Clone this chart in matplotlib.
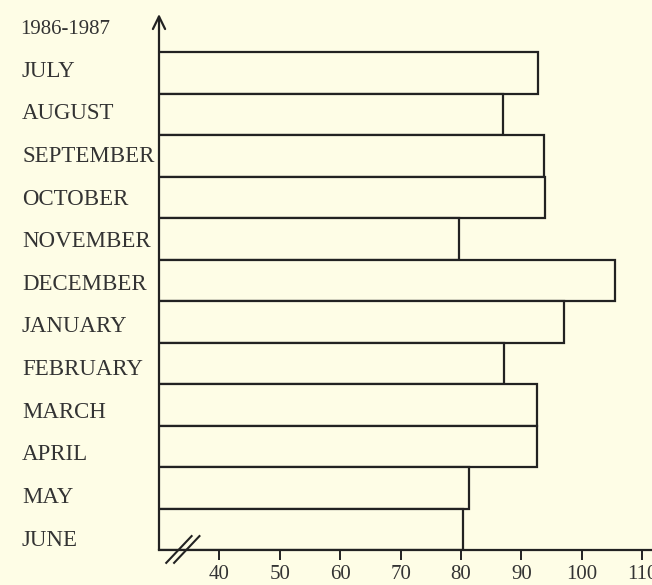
import matplotlib
matplotlib.use("Agg")
import matplotlib.pyplot as plt
import numpy as np

months = ["JULY", "AUGUST", "SEPTEMBER", "OCTOBER", "NOVEMBER", "DECEMBER",
          "JANUARY", "FEBRUARY", "MARCH", "APRIL", "MAY", "JUNE"]
values = [92.7, 87.0, 93.8, 93.9, 79.7, 105.5, 97.1, 87.2, 92.6, 92.6, 81.3, 80.3]
xticks = [40, 50, 60, 70, 80, 90, 100, 110]
period_label = "1986-1987"

BG = "#fefde6"
INK = "#222222"
TXT = "#333333"

plt.rcParams["font.family"] = ["Liberation Serif", "DejaVu Serif"]

fig = plt.figure(figsize=(6.52, 5.85), dpi=100, facecolor=BG)
W, H = 652, 585
ax_left_px, ax_bottom_px, ax_top_px = 159, 550, 14
ax = fig.add_axes([ax_left_px / W, (H - ax_bottom_px) / H, 1 - ax_left_px / W,
                   (ax_bottom_px - ax_top_px) / H])
ax.set_facecolor(BG)

n = len(months)
ypos = np.arange(n)[::-1]  # JULY at top
ax.barh(ypos, values, height=1.0, left=0, color=BG, edgecolor=INK, linewidth=1.6)

ax.set_xlim(30, 30 + (W - ax_left_px) / 6.04)
ax.set_ylim(-0.5, (ax_bottom_px - ax_top_px) / 41.5 - 0.5)

# x axis
ax.set_xticks(xticks)
ax.set_xticklabels([str(t) for t in xticks], fontsize=15, color=TXT)
ax.tick_params(axis="x", direction="out", length=7, width=1.4, color=INK, pad=4)
for s in ["top", "right", "left"]:
    ax.spines[s].set_visible(False)
ax.spines["bottom"].set_linewidth(1.6)
ax.spines["bottom"].set_color(INK)

# y labels (left aligned in the margin)
label_pos = -0.2 + np.arange(n) * 1.027
ax.set_yticks(label_pos)
ax.set_yticklabels(months[::-1], fontsize=16.5, color=TXT)
for lbl in ax.get_yticklabels():
    lbl.set_ha("left")
ax.tick_params(axis="y", length=0, pad=(ax_left_px - 22) * 72 / 100)

# y axis arrow
ax.annotate("", xy=(0, 1), xytext=(0, 0), xycoords="axes fraction",
            arrowprops=dict(arrowstyle="->,head_length=0.45,head_width=0.22",
                            mutation_scale=20, lw=1.6, color=INK,
                            shrinkA=0, shrinkB=0))

# axis break marks
trans = ax.get_xaxis_transform()
for x0, x1 in [(31.2, 35.4), (32.5, 36.7)]:
    ax.plot([x0, x1], [-0.024, 0.026], transform=trans, color=INK, lw=1.5,
            clip_on=False)

# period label
fig.text(20 / W, 1 - 29 / H, period_label, fontsize=15, color=TXT,
         ha="left", va="center")

fig.savefig("out.png", dpi=100, facecolor=BG)
